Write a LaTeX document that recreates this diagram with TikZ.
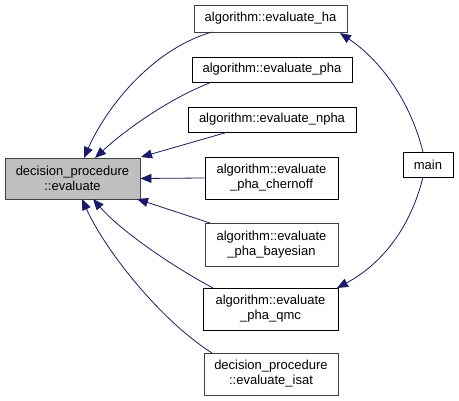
\documentclass[tikz,border=0pt]{standalone}
\usepackage{fontspec}
\setmainfont{Liberation Sans}
\usetikzlibrary{arrows.meta}
\definecolor{edgeblue}{HTML}{191970}
\definecolor{graybord}{HTML}{404040}
\definecolor{nodegray}{HTML}{BFBFBF}
\tikzset{
  fnode/.style={draw=black, line width=0.9pt, fill=white, inner sep=0pt, align=center,
     font=\fontsize{13}{15}\selectfont},
  gnode/.style={fnode, draw=graybord},
  calledge/.style={draw=edgeblue, line width=0.8pt, -{Triangle[length=11pt,width=9pt]}},
}
\begin{document}
\begin{tikzpicture}[x=1pt,y=-1pt]
\useasboundingbox (0,0) rectangle (459,401);
\fill[white] (0,0) rectangle (459,401);
\node[gnode, fill=nodegray, minimum width=135, minimum height=41] (ev) at (72.5,178.5) {decision\_procedure\\::evaluate};
\node[gnode, minimum width=153, minimum height=27] (ha) at (270.5,18.5) {algorithm::evaluate\_ha};
\node[fnode, minimum width=160, minimum height=25] (pha) at (272,69.5) {algorithm::evaluate\_pha};
\node[fnode, minimum width=168, minimum height=25] (npha) at (272,119.5) {algorithm::evaluate\_npha};
\node[fnode, minimum width=133, minimum height=42] (cher) at (271.5,178) {algorithm::evaluate\\\_pha\_chernoff};
\node[gnode, minimum width=133, minimum height=43] (bay) at (271.5,245) {algorithm::evaluate\\\_pha\_bayesian};
\node[fnode, minimum width=135, minimum height=42] (qmc) at (270.5,309) {algorithm::evaluate\\\_pha\_qmc};
\node[gnode, minimum width=134, minimum height=42] (isat) at (271,374) {decision\_procedure\\::evaluate\_isat};
\node[fnode, minimum width=50, minimum height=25] (main) at (428,164.5) {main};

\coordinate (haS) at (212,32);
\coordinate (phaS) at (212,82);
\coordinate (nphaS) at (228,132);
\coordinate (bayS) at (210,223);
\coordinate (qmcS) at (213,288);
\coordinate (isatS) at (212,353);
\coordinate (ev1) at (84,158);
\coordinate (ev2) at (95,158);
\coordinate (ev3) at (141,157);
\coordinate (ev5) at (137,199);
\coordinate (ev6) at (93,199);
\coordinate (ev7) at (82,199);
\coordinate (mainN) at (423,152);
\coordinate (mainS) at (423,177);
\coordinate (haE) at (340,33);
\coordinate (qmcE) at (337,288);

\draw[calledge] (haS) .. controls (150,50) and (105,110) .. (ev1);
\draw[calledge] (phaS) .. controls (170,98) and (125,130) .. (ev2);
\draw[calledge] (nphaS) -- (ev3);
\draw[calledge] (cher.west) -- (ev.east);
\draw[calledge] (bayS) -- (ev5);
\draw[calledge] (qmcS) .. controls (170,265) and (120,230) .. (ev6);
\draw[calledge] (isatS) .. controls (160,320) and (105,250) .. (ev7);
\draw[calledge] (mainN) .. controls (410,100) and (380,60) .. (haE);
\draw[calledge] (mainS) .. controls (410,230) and (380,265) .. (qmcE);
\end{tikzpicture}
\end{document}
